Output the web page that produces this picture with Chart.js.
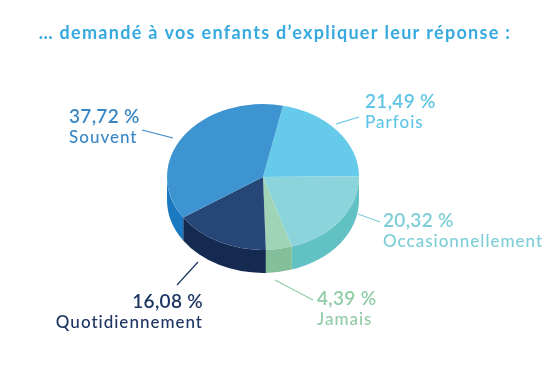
<!DOCTYPE html>
<html>
<head>
<meta charset="utf-8">
<script src="https://cdn.jsdelivr.net/npm/chart.js@4.4.1/dist/chart.umd.min.js"></script>
<style>
  html, body { margin: 0; padding: 0; background: #fff; }
  canvas { display: block; }
</style>
</head>
<body>
<canvas id="graphique-reponse" width="557" height="376"></canvas>
<script>
// Données
const categories = ['Parfois', 'Occasionnellement', 'Jamais', 'Quotidiennement', 'Souvent'];
const valeurs = [21.49, 20.32, 4.39, 16.08, 37.72];
const couleursDessus = ['#66caeb', '#8cd4db', '#a0d4b6', '#264677', '#3d94d1'];
const couleursCote = ['#4db7dc', '#62c1c3', '#83bf99', '#142a51', '#1b79c1'];
const couleursTexte = ['#5ec5e6', '#7ccdd6', '#90cca6', '#1d3563', '#3a87c6'];
const titre = '\u2026 demandé à vos enfants d\u2019expliquer leur réponse :';

// Placement des étiquettes et des traits de rappel
const etiquettes = [
  { x: 365, y: 108, align: 'left',  trait: [336, 124, 359, 117] },
  { x: 383, y: 227, align: 'left',  trait: [358, 214, 380, 222] },
  { x: 317, y: 305, align: 'left',  trait: [275, 280, 313, 300] },
  { x: 203, y: 308, align: 'right', trait: [198, 262, 177, 285] },
  { x: 69,  y: 123, align: 'left',  trait: [142, 130, 173, 138] },
];

const INCLINAISON = 0.76; // aplatissement vertical du camembert
const PROFONDEUR = 23;    // épaisseur de la tranche
const POLICE = 'Lato, "Noto Sans", sans-serif';

// Effet 3D : on dessine les flancs puis on écrase le disque
const camembert3d = {
  id: 'camembert3d',
  beforeDatasetsDraw(chart) {
    const ctx = chart.ctx;
    const arcs = chart.getDatasetMeta(0).data;
    ctx.save();
    arcs.forEach((arc, i) => {
      const p = arc.getProps(['x', 'y', 'startAngle', 'endAngle', 'outerRadius'], true);
      const ry = p.outerRadius * INCLINAISON;
      for (let k = -1; k <= 2; k++) {
        const a1 = Math.max(p.startAngle, 2 * Math.PI * k);
        const a2 = Math.min(p.endAngle, 2 * Math.PI * k + Math.PI);
        if (a2 <= a1) continue;
        ctx.beginPath();
        ctx.ellipse(p.x, p.y, p.outerRadius, ry, 0, a1, a2, false);
        ctx.ellipse(p.x, p.y + PROFONDEUR, p.outerRadius, ry, 0, a2, a1, true);
        ctx.closePath();
        ctx.fillStyle = couleursCote[i];
        ctx.fill();
      }
    });
    ctx.restore();

    const cy = arcs[0].y;
    ctx.save();
    ctx.translate(0, cy);
    ctx.scale(1, INCLINAISON);
    ctx.translate(0, -cy);
  },
  afterDatasetsDraw(chart) {
    chart.ctx.restore();
  },
  afterDraw(chart) {
    const ctx = chart.ctx;
    ctx.save();
    // Titre
    ctx.fillStyle = '#36a9e0';
    ctx.font = 'bold 18px ' + POLICE;
    ctx.letterSpacing = '1.3px';
    ctx.textAlign = 'center';
    ctx.textBaseline = 'alphabetic';
    ctx.fillText(titre, 275, 39);

    // Étiquettes
    etiquettes.forEach((e, i) => {
      const t = e.trait;
      ctx.strokeStyle = couleursTexte[i];
      ctx.lineWidth = 1.2;
      ctx.beginPath();
      ctx.moveTo(t[0], t[1]);
      ctx.lineTo(t[2], t[3]);
      ctx.stroke();

      ctx.fillStyle = couleursTexte[i];
      ctx.textAlign = e.align;
      ctx.font = '600 19px ' + POLICE;
      ctx.letterSpacing = '0.3px';
      ctx.fillText(valeurs[i].toFixed(2).replace('.', ',') + ' %', e.x, e.y);
      ctx.font = '500 17px ' + POLICE;
      ctx.letterSpacing = '1px';
      ctx.fillText(categories[i], e.x, e.y + 20);
    });
    ctx.restore();
  }
};

const ctx = document.getElementById('graphique-reponse').getContext('2d');
new Chart(ctx, {
  type: 'pie',
  data: {
    labels: categories,
    datasets: [{
      data: valeurs,
      backgroundColor: couleursDessus,
      borderWidth: 0,
    }]
  },
  options: {
    responsive: false,
    animation: false,
    events: [],
    rotation: 12,
    layout: { padding: { left: 167, right: 198, top: 81, bottom: 103 } },
    plugins: {
      legend: { display: false },
      tooltip: { enabled: false },
      title: { display: false },
    }
  },
  plugins: [camembert3d]
});
</script>
</body>
</html>
